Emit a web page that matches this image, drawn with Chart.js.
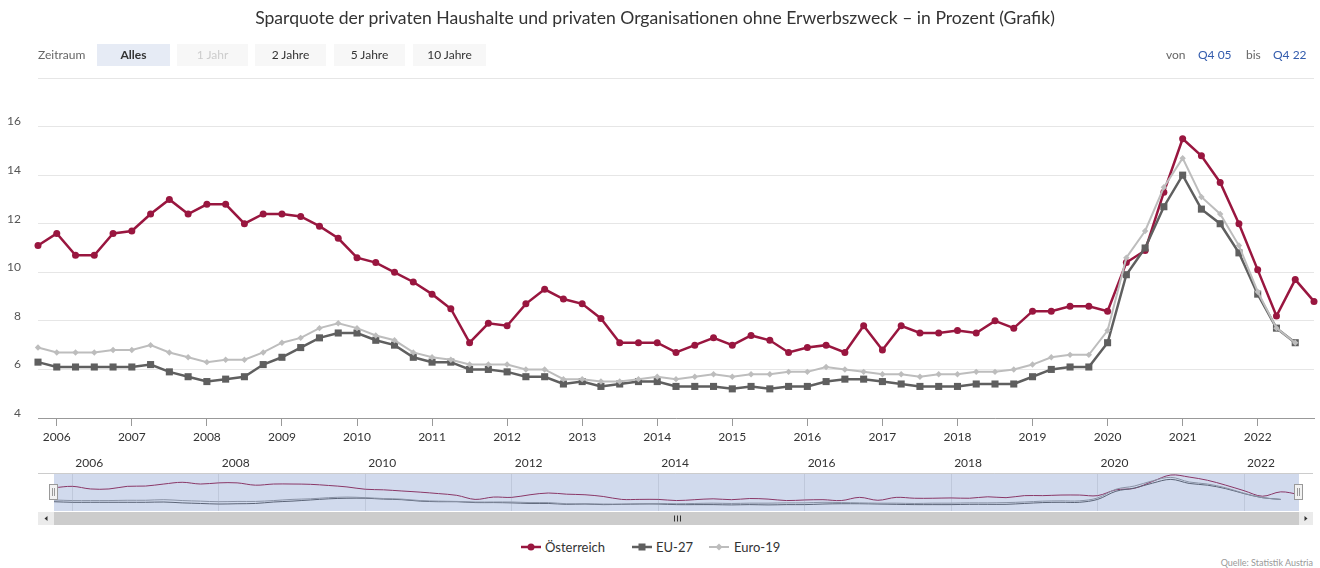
<!DOCTYPE html>
<html><head><meta charset="utf-8">
<script src="https://cdn.jsdelivr.net/npm/chart.js@4.4.1/dist/chart.umd.min.js"></script>
<style>
html,body{margin:0;padding:0;background:#fff;}
body{width:1320px;height:568px;position:relative;overflow:hidden;font-family:Lato,"Open Sans",sans-serif;color:#333;}
#title{position:absolute;left:0;width:1310px;top:7px;text-align:center;font-size:17.6px;color:#333;white-space:nowrap;z-index:2;}
.lbl{position:absolute;top:44px;height:22px;line-height:22px;font-size:12px;white-space:nowrap;z-index:2;}
.btn{position:absolute;top:44px;height:22px;line-height:22px;font-size:12px;text-align:center;background:#f7f7f7;color:#333;z-index:2;}
.sel{background:#e6ebf5;font-weight:bold;}
.dis{color:#cccccc;}
.blue{color:#335cad;}
.grey{color:#666;}
#mainWrap{position:absolute;left:0;top:0;width:1320px;height:450px;z-index:1;}
#navWrap{position:absolute;left:0;top:450px;width:1320px;height:80px;z-index:1;}
.leg{position:absolute;top:538px;height:18px;line-height:18px;font-size:13px;color:#333;white-space:nowrap;}
.leg svg{position:absolute;left:0;top:3px;}
#src{position:absolute;right:7px;top:557px;font-size:9px;color:#999;}
</style></head>
<body>
<div id="title">Sparquote der privaten Haushalte und privaten Organisationen ohne Erwerbszweck – in Prozent (Grafik)</div>
<div class="lbl grey" style="left:38px;">Zeitraum</div>
<div class="btn sel" style="left:97px;width:73px;">Alles</div>
<div class="btn dis" style="left:177px;width:71px;">1 Jahr</div>
<div class="btn" style="left:255px;width:71px;">2 Jahre</div>
<div class="btn" style="left:334px;width:71px;">5 Jahre</div>
<div class="btn" style="left:413px;width:73px;">10 Jahre</div>
<div class="lbl grey" style="left:1166px;">von</div>
<div class="lbl blue" style="left:1198px;">Q4 05</div>
<div class="lbl grey" style="left:1246px;">bis</div>
<div class="lbl blue" style="left:1273px;">Q4 22</div>

<div id="mainWrap"><canvas id="main" width="1320" height="450"></canvas></div>
<div id="navWrap"><canvas id="nav" width="1320" height="80"></canvas></div>

<div class="leg" style="left:521px;"><svg width="20" height="12"><line x1="0" y1="6" x2="20" y2="6" stroke="#99163f" stroke-width="2.5"/><circle cx="10" cy="6" r="3.5" fill="#99163f"/></svg><span style="margin-left:24px;">Österreich</span></div>
<div class="leg" style="left:632px;"><svg width="20" height="12"><line x1="0" y1="6" x2="20" y2="6" stroke="#5f5f5f" stroke-width="2.5"/><rect x="6.5" y="2.5" width="7" height="7" fill="#5f5f5f"/></svg><span style="margin-left:24px;">EU-27</span></div>
<div class="leg" style="left:709px;"><svg width="20" height="12"><line x1="0" y1="6" x2="20" y2="6" stroke="#bdbdbd" stroke-width="2"/><polygon points="10,2.5 13.5,6 10,9.5 6.5,6" fill="#bdbdbd"/></svg><span style="margin-left:25px;">Euro-19</span></div>
<div id="src">Quelle: Statistik Austria</div>

<script>
// ---- data ----
const quarters = ["Q4 05",
 "Q1 06","Q2 06","Q3 06","Q4 06","Q1 07","Q2 07","Q3 07","Q4 07",
 "Q1 08","Q2 08","Q3 08","Q4 08","Q1 09","Q2 09","Q3 09","Q4 09",
 "Q1 10","Q2 10","Q3 10","Q4 10","Q1 11","Q2 11","Q3 11","Q4 11",
 "Q1 12","Q2 12","Q3 12","Q4 12","Q1 13","Q2 13","Q3 13","Q4 13",
 "Q1 14","Q2 14","Q3 14","Q4 14","Q1 15","Q2 15","Q3 15","Q4 15",
 "Q1 16","Q2 16","Q3 16","Q4 16","Q1 17","Q2 17","Q3 17","Q4 17",
 "Q1 18","Q2 18","Q3 18","Q4 18","Q1 19","Q2 19","Q3 19","Q4 19",
 "Q1 20","Q2 20","Q3 20","Q4 20","Q1 21","Q2 21","Q3 21","Q4 21",
 "Q1 22","Q2 22","Q3 22","Q4 22"];

const oesterreich = [11.1,
 11.6,10.7,10.7,11.6, 11.7,12.4,13.0,12.4, 12.8,12.8,12.0,12.4, 12.4,12.3,11.9,11.4,
 10.6,10.4,10.0,9.6, 9.1,8.5,7.1,7.9, 7.8,8.7,9.3,8.9, 8.7,8.1,7.1,7.1,
 7.1,6.7,7.0,7.3, 7.0,7.4,7.2,6.7, 6.9,7.0,6.7,7.8, 6.8,7.8,7.5,7.5,
 7.6,7.5,8.0,7.7, 8.4,8.4,8.6,8.6, 8.4,10.4,10.9,13.3, 15.5,14.8,13.7,12.0,
 10.1,8.2,9.7,8.8];

const eu27 = [6.3,
 6.1,6.1,6.1,6.1, 6.1,6.2,5.9,5.7, 5.5,5.6,5.7,6.2, 6.5,6.9,7.3,7.5,
 7.5,7.2,7.0,6.5, 6.3,6.3,6.0,6.0, 5.9,5.7,5.7,5.4, 5.5,5.3,5.4,5.5,
 5.5,5.3,5.3,5.3, 5.2,5.3,5.2,5.3, 5.3,5.5,5.6,5.6, 5.5,5.4,5.3,5.3,
 5.3,5.4,5.4,5.4, 5.7,6.0,6.1,6.1, 7.1,9.9,11.0,12.7, 14.0,12.6,12.0,10.8,
 9.1,7.7,7.1];

const euro19 = [6.9,
 6.7,6.7,6.7,6.8, 6.8,7.0,6.7,6.5, 6.3,6.4,6.4,6.7, 7.1,7.3,7.7,7.9,
 7.7,7.4,7.2,6.7, 6.5,6.4,6.2,6.2, 6.2,6.0,6.0,5.6, 5.6,5.5,5.5,5.6,
 5.7,5.6,5.7,5.8, 5.7,5.8,5.8,5.9, 5.9,6.1,6.0,5.9, 5.8,5.8,5.7,5.8,
 5.8,5.9,5.9,6.0, 6.2,6.5,6.6,6.6, 7.6,10.6,11.7,13.5, 14.7,13.1,12.4,11.1,
 9.2,7.7,7.1];

const yearTicks = [2006,2007,2008,2009,2010,2011,2012,2013,2014,2015,2016,2017,2018,2019,2020,2021,2022];
const navYearTicks = [2006,2008,2010,2012,2014,2016,2018,2020,2022];
const yTicks = [4,6,8,10,12,14,16,18];

// ---- helpers ----
function qx(label){ const q=parseInt(label.charAt(1),10); const y=2000+parseInt(label.slice(3),10); return y+(q-1)/4; }
function pts(arr){ return arr.map((v,i)=>({x:qx(quarters[i]), y:v})); }
const xMin = qx(quarters[0]), xMax = qx(quarters[quarters.length-1]);
const FONT = 'Lato, "Open Sans", sans-serif';
Chart.defaults.font.family = FONT;

// ---- main chart ----
new Chart(document.getElementById('main'), {
  type:'line',
  data:{datasets:[
    {label:'Österreich', data:pts(oesterreich), borderColor:'#99163f', backgroundColor:'#99163f', borderWidth:2.5,
     pointStyle:'circle', pointRadius:3.5, pointBorderWidth:0, order:2, clip:false, tension:0},
    {label:'EU-27', data:pts(eu27), borderColor:'#5f5f5f', backgroundColor:'#5f5f5f', borderWidth:2.5,
     pointStyle:'rect', pointRadius:5, pointBorderWidth:0, order:1, clip:false, tension:0},
    {label:'Euro-19', data:pts(euro19), borderColor:'#bdbdbd', backgroundColor:'#bdbdbd', borderWidth:2,
     pointStyle:'rectRot', pointRadius:3.2, pointBorderWidth:0, order:0, clip:false, tension:0}
  ]},
  options:{
    responsive:false, animation:false, devicePixelRatio:1,
    layout:{padding:{top:78,right:6,left:0,bottom:0}},
    plugins:{legend:{display:false}, tooltip:{enabled:false}},
    events:[],
    scales:{
      x:{type:'linear', min:xMin, max:xMax,
         afterBuildTicks:s=>{s.ticks=yearTicks.map(v=>({value:v}));},
         afterFit:s=>{s.height=32;},
         ticks:{callback:v=>String(v), font:{size:12}, color:'#333', padding:4, maxRotation:0, autoSkip:false},
         grid:{drawOnChartArea:false, drawTicks:true, tickLength:8, color:'#999'},
         border:{color:'#999', width:1}},
      y:{min:4, max:18,
         afterBuildTicks:s=>{s.ticks=yTicks.map(v=>({value:v}));},
         afterFit:s=>{s.width=38;},
         ticks:{callback:v=>(v===18?'':String(v)), font:{size:12}, color:'#555', padding:17, labelOffset:-5},
         grid:{color:'#e6e6e6', drawTicks:false},
         border:{display:false}}
    }
  }
});

// ---- navigator ----
const navDeco = {
  id:'navDeco',
  afterDatasetsDraw(chart){
    const c=chart.ctx, a=chart.chartArea;
    c.save();
    c.fillStyle='rgba(102,133,194,0.3)';
    c.fillRect(a.left, a.top, a.right-a.left, a.bottom-a.top);
    c.strokeStyle='#cccccc'; c.lineWidth=1;
    c.beginPath(); c.moveTo(38, a.top+0.5); c.lineTo(1313, a.top+0.5); c.stroke();
    const sy=a.bottom+1, sh=13;
    c.fillStyle='#cccccc'; c.fillRect(38, sy, 1313-38, sh);
    c.fillStyle='#ebebeb'; c.fillRect(38, sy, a.left-38, sh); c.fillRect(a.right, sy, 1313-a.right, sh);
    c.fillStyle='#333';
    c.beginPath(); const lx=(38+a.left)/2, my=sy+sh/2;
    c.moveTo(lx-1.5,my); c.lineTo(lx+1.5,my-2.5); c.lineTo(lx+1.5,my+2.5); c.closePath(); c.fill();
    const rx=(a.right+1313)/2;
    c.beginPath(); c.moveTo(rx+1.5,my); c.lineTo(rx-1.5,my-2.5); c.lineTo(rx-1.5,my+2.5); c.closePath(); c.fill();
    c.strokeStyle='#333'; c.lineWidth=1;
    const gx=Math.round((a.left+a.right)/2);
    for(const d of [-3,0,3]){ c.beginPath(); c.moveTo(gx+d+0.5,my-3); c.lineTo(gx+d+0.5,my+3); c.stroke(); }
    const hy=(a.top+a.bottom)/2;
    for(const hx of [a.left-1, a.right-1]){
      c.fillStyle='#f2f2f2'; c.strokeStyle='#999';
      c.fillRect(hx-4, hy-8, 9, 16); c.strokeRect(hx-3.5, hy-7.5, 8, 15);
      c.beginPath(); c.moveTo(hx-0.5, hy-4); c.lineTo(hx-0.5, hy+4); c.moveTo(hx+1.5, hy-4); c.lineTo(hx+1.5, hy+4); c.stroke();
    }
    c.restore();
  }
};

new Chart(document.getElementById('nav'), {
  type:'line',
  data:{datasets:[
    {data:pts(oesterreich), borderColor:'#99163f', borderWidth:1, pointRadius:0, tension:0.35, order:2},
    {data:pts(eu27), borderColor:'#555555', borderWidth:1, pointRadius:0, tension:0.35, order:1},
    {data:pts(euro19), borderColor:'#9a9a9a', borderWidth:1, pointRadius:0, tension:0.35, order:0}
  ]},
  options:{
    responsive:false, animation:false, devicePixelRatio:1, events:[],
    layout:{padding:{top:0,right:21,left:54,bottom:19}},
    plugins:{legend:{display:false}, tooltip:{enabled:false}},
    scales:{
      x:{type:'linear', position:'top', min:xMin, max:xMax,
         afterBuildTicks:s=>{s.ticks=navYearTicks.map(v=>({value:v}));},
         afterFit:s=>{s.height=23;},
         ticks:{callback:v=>String(v), font:{size:12}, color:'#333', padding:3, align:'start', labelOffset:3, maxRotation:0, autoSkip:false},
         grid:{color:'#e6e6e6', drawTicks:false},
         border:{display:false}},
      y:{display:false, min:3.1, max:16.2}
    }
  },
  plugins:[navDeco]
});
</script>
</body></html>
